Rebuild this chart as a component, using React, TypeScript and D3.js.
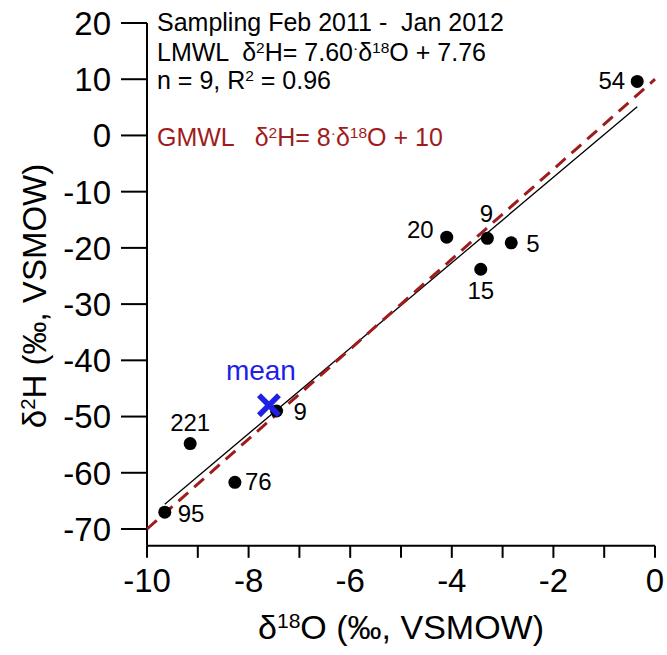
import React from 'react';
import * as d3 from 'd3';

// sample values
const labels = ['54', '20', '9', '5', '15', '221', '76', '95', '9'];
const d18O = [-0.35, -4.1, -3.3, -2.83, -3.43, -9.15, -8.27, -9.65, -7.45];
const d2H = [9.6, -18.1, -18.3, -19.1, -23.8, -54.8, -61.7, -67.0, -49.0];
const meanPoint = { x: -7.6, y: -48.0 };

const xTicks = d3.range(-10, 0.01, 1);
const xTickLabels = [-10, -8, -6, -4, -2, 0];
const yTicks = [20, 10, 0, -10, -20, -30, -40, -50, -60, -70];

// label placement around each dot
const labelPos = [
  { dx: -12, dy: 8, anchor: 'end' },
  { dx: -13, dy: 1, anchor: 'end' },
  { dx: -1, dy: -16, anchor: 'middle' },
  { dx: 15, dy: 9, anchor: 'start' },
  { dx: 0, dy: 30, anchor: 'middle' },
  { dx: 0, dy: -13, anchor: 'middle' },
  { dx: 10, dy: 8, anchor: 'start' },
  { dx: 13, dy: 10, anchor: 'start' },
  { dx: 17, dy: 9, anchor: 'start' },
];

const font = 'Liberation Sans, Arial, sans-serif';
const red = '#a01c1c';

const Sup = ({ children }: { children: React.ReactNode }) => (
  <tspan baselineShift="super" fontSize="0.62em">{children}</tspan>
);

export default function App() {
  const x = d3.scaleLinear().domain([-10, 0]).range([147, 655]);
  const y = d3.scaleLinear().domain([-70, 20]).range([529, 23]);
  const yBottom = y(-73);

  // LMWL over the sample range, GMWL over the full x domain
  const lmwl = (v: number) => 7.6 * v + 7.76;
  const gmwl = (v: number) => 8 * v + 10;
  const xMin = d3.min(d18O)!;
  const xMax = d3.max(d18O)!;
  const line = d3.line<number>().x(v => x(v));

  return (
    <svg width={667} height={655} style={{ position: 'absolute', left: 0, top: 0, background: '#fff' }} fontFamily={font}>
      {/* axes */}
      <line x1={x(-10)} x2={x(-10)} y1={y(20)} y2={yBottom} stroke="#000" strokeWidth={2} />
      <line x1={x(-10)} x2={x(0)} y1={yBottom} y2={yBottom} stroke="#000" strokeWidth={2} />
      {yTicks.map(t => (
        <g key={'y' + t}>
          <line x1={x(-10) - 26} x2={x(-10)} y1={y(t)} y2={y(t)} stroke="#000" strokeWidth={2} />
          <text x={111} y={y(t)} dy="0.36em" textAnchor="end" fontSize={33}>{t}</text>
        </g>
      ))}
      {xTicks.map(t => (
        <line key={'x' + t} x1={x(t)} x2={x(t)} y1={yBottom} y2={yBottom + 12} stroke="#000" strokeWidth={2} />
      ))}
      {xTickLabels.map(t => (
        <text key={'xl' + t} x={x(t)} y={592} textAnchor="middle" fontSize={33}>{t}</text>
      ))}
      <text x={401} y={639} textAnchor="middle" fontSize={34}>
        δ<Sup>18</Sup>O (‰, VSMOW)
      </text>
      <text transform={`translate(46,${296}) rotate(-90)`} textAnchor="middle" fontSize={33}>
        δ<Sup>2</Sup>H (‰, VSMOW)
      </text>

      {/* water lines */}
      <path
        d={line.y(v => y(lmwl(v)))([xMin, xMax])!}
        stroke="#000" strokeWidth={1.3} fill="none"
      />
      <path
        d={line.y(v => y(gmwl(v)))([-10, 0])!}
        stroke={red} strokeWidth={3} strokeDasharray="13 8" fill="none"
      />

      {/* samples */}
      {d18O.map((v, i) => (
        <g key={i}>
          <circle cx={x(v)} cy={y(d2H[i])} r={6.5} fill="#000" />
          <text
            x={x(v) + labelPos[i].dx}
            y={y(d2H[i]) + labelPos[i].dy}
            textAnchor={labelPos[i].anchor as any}
            fontSize={24}
          >{labels[i]}</text>
        </g>
      ))}

      {/* mean */}
      <g stroke="#1f1fe6" strokeWidth={5.5} strokeLinecap="butt">
        <line x1={x(meanPoint.x) - 10} x2={x(meanPoint.x) + 10} y1={y(meanPoint.y) - 10} y2={y(meanPoint.y) + 10} />
        <line x1={x(meanPoint.x) - 10} x2={x(meanPoint.x) + 10} y1={y(meanPoint.y) + 10} y2={y(meanPoint.y) - 10} />
      </g>
      <text x={x(meanPoint.x) - 8} y={y(meanPoint.y) - 25} textAnchor="middle" fontSize={28} fill="#1f1fe6">mean</text>

      {/* annotations */}
      <g fontSize={25}>
        <text x={157} y={31} xmlSpace="preserve">Sampling Feb 2011 -  Jan 2012</text>
        <text x={157} y={61} xmlSpace="preserve">
          LMWL  δ<Sup>2</Sup>H= 7.60<Sup>·</Sup>δ<Sup>18</Sup>O + 7.76
        </text>
        <text x={157} y={89}>
          n = 9, R<Sup>2</Sup> = 0.96
        </text>
        <text x={157} y={146} fill={red} xmlSpace="preserve">
          GMWL   δ<Sup>2</Sup>H= 8<Sup>·</Sup>δ<Sup>18</Sup>O + 10
        </text>
      </g>
    </svg>
  );
}
